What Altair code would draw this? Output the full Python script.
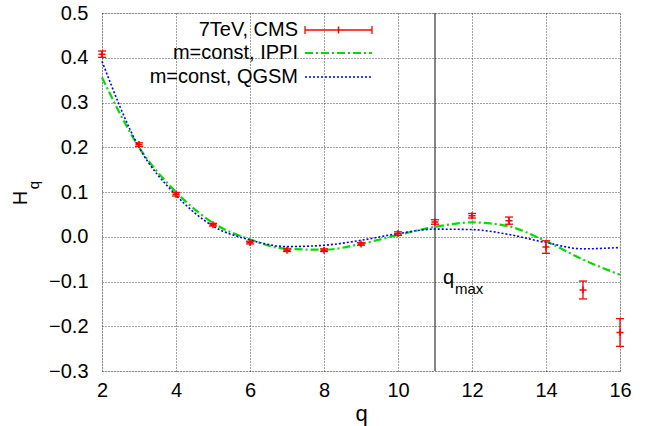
import altair as alt
import pandas as pd

q = list(range(2, 17))
cms = [0.408, 0.206, 0.095, 0.027, -0.013, -0.030, -0.030, -0.016, 0.007, 0.033, 0.047, 0.036, -0.023, -0.119, -0.214]
cms_err = [0.007, 0.004, 0.004, 0.003, 0.003, 0.003, 0.003, 0.003, 0.004, 0.005, 0.005, 0.008, 0.014, 0.020, 0.031]
ippi = [0.356, 0.200, 0.100, 0.031, -0.006, -0.027, -0.029, -0.016, 0.004, 0.022, 0.032, 0.023, -0.010, -0.051, -0.085]
qgsm = [0.392, 0.200, 0.093, 0.024, -0.007, -0.022, -0.019, -0.008, 0.007, 0.017, 0.016, 0.005, -0.013, -0.027, -0.024]
q_max = 11

df = pd.DataFrame({"q": q, "cms": cms, "err": cms_err, "ippi": ippi, "qgsm": qgsm})
df["lo"] = df["cms"] - df["err"]
df["hi"] = df["cms"] + df["err"]

FONT = "Liberation Sans"
RED = "#ff0000"
GREEN = "#00dd00"
BLUE = "#0000ff"

xs = alt.Scale(domain=[2, 16], nice=False, zero=False)
ys = alt.Scale(domain=[-0.3, 0.5], nice=False, zero=False)

base = alt.Chart(df)

xax = alt.X("q:Q", scale=xs,
            axis=alt.Axis(values=[2, 4, 6, 8, 10, 12, 14, 16], title="q", titleFontSize=22,
                          titleFontWeight="normal", titlePadding=3, labelPadding=9,
                          labelFlush=False, labelOverlap=False,
                          ticks=False, domain=False, grid=True, gridDash=[1, 2],
                          gridColor="#222222", gridOpacity=0.85, labelFontSize=20,
                          labelFont=FONT, titleFont=FONT, labelColor="#000", titleColor="#000"))

grid_layer = base.mark_point(opacity=0).encode(
    x=xax,
    y=alt.Y("cms:Q", scale=ys,
            axis=alt.Axis(values=[-0.3, -0.2, -0.1, 0.0, 0.1, 0.2, 0.3, 0.4, 0.5], format=".1f",
                          title=None, labelPadding=14, ticks=False, domain=False, grid=True,
                          labelFlush=False, labelOverlap=False,
                          gridDash=[1, 2], gridColor="#222222", gridOpacity=0.85,
                          labelFontSize=20, labelFont=FONT, labelColor="#000")),
)

vline = alt.Chart(pd.DataFrame({"q": [q_max]})).mark_rule(color="#333333", strokeWidth=1.2).encode(
    x=alt.X("q:Q", scale=xs)
)

ippi_line = base.mark_line(color=GREEN, strokeWidth=2.2, strokeDash=[8, 3, 2, 3],
                           interpolate="monotone", clip=False).encode(
    x=alt.X("q:Q", scale=xs), y=alt.Y("ippi:Q", scale=ys))
qgsm_line = base.mark_line(color=BLUE, strokeWidth=1.6, strokeDash=[2, 2],
                           interpolate="monotone", clip=False).encode(
    x=alt.X("q:Q", scale=xs), y=alt.Y("qgsm:Q", scale=ys))

err_rule = base.mark_rule(color=RED, strokeWidth=1.3).encode(
    x=alt.X("q:Q", scale=xs), y=alt.Y("lo:Q", scale=ys), y2="hi:Q")
cap_lo = base.mark_point(shape="M-1,0L1,0", size=64, filled=False, color=RED, strokeWidth=1.3,
                         opacity=1).encode(x=alt.X("q:Q", scale=xs), y=alt.Y("lo:Q", scale=ys))
cap_hi = base.mark_point(shape="M-1,0L1,0", size=64, filled=False, color=RED, strokeWidth=1.3,
                         opacity=1).encode(x=alt.X("q:Q", scale=xs), y=alt.Y("hi:Q", scale=ys))
center = base.mark_point(shape="M-1,0L1,0M0,-1L0,1", size=49, filled=False, color=RED,
                         strokeWidth=1.5, opacity=1).encode(
    x=alt.X("q:Q", scale=xs), y=alt.Y("cms:Q", scale=ys))

one = alt.Chart(pd.DataFrame({"a": [0]}))

# legend (manual)
leg_labels = ["7TeV, CMS", "m=const, IPPI", "m=const, QGSM"]
leg_y = [17, 40, 64]
leg_text = alt.layer(*[
    one.mark_text(text=t, align="right", baseline="middle", fontSize=20, font=FONT, color="#000").encode(
        x=alt.value(196), y=alt.value(yy))
    for t, yy in zip(leg_labels, leg_y)
])
leg_red = alt.layer(
    one.mark_rule(color=RED, strokeWidth=1.3).encode(x=alt.value(203), x2=alt.value(270), y=alt.value(leg_y[0])),
    one.mark_rule(color=RED, strokeWidth=1.3).encode(x=alt.value(203), y=alt.value(leg_y[0] - 4), y2=alt.value(leg_y[0] + 4)),
    one.mark_rule(color=RED, strokeWidth=1.3).encode(x=alt.value(270), y=alt.value(leg_y[0] - 4), y2=alt.value(leg_y[0] + 4)),
    one.mark_rule(color=RED, strokeWidth=1.5).encode(x=alt.value(236.5), y=alt.value(leg_y[0] - 3.5), y2=alt.value(leg_y[0] + 3.5)),
)
leg_green = one.mark_rule(color=GREEN, strokeWidth=2.2, strokeDash=[8, 3, 2, 3]).encode(
    x=alt.value(203), x2=alt.value(270), y=alt.value(leg_y[1]))
leg_blue = one.mark_rule(color=BLUE, strokeWidth=1.6, strokeDash=[2, 2]).encode(
    x=alt.value(203), x2=alt.value(270), y=alt.value(leg_y[2]))

# annotations
qmax_q = one.mark_text(text="q", align="left", baseline="alphabetic", fontSize=20, font=FONT, color="#000").encode(
    x=alt.value(341), y=alt.value(271))
qmax_sub = one.mark_text(text="max", align="left", baseline="alphabetic", fontSize=15, font=FONT, color="#000").encode(
    x=alt.value(353), y=alt.value(281))
h_main = one.mark_text(text="H", align="center", baseline="middle", fontSize=20, font=FONT, angle=270, color="#000").encode(
    x=alt.value(-81), y=alt.value(185))
h_sub = one.mark_text(text="q", align="center", baseline="middle", fontSize=15, font=FONT, angle=270, color="#000").encode(
    x=alt.value(-68), y=alt.value(172))

chart = alt.layer(
    grid_layer, vline, ippi_line, qgsm_line, err_rule, cap_lo, cap_hi, center,
    leg_text, leg_red, leg_green, leg_blue, qmax_q, qmax_sub, h_main, h_sub,
).properties(
    width=518, height=358,
    autosize=alt.AutoSizeParams(type="none"),
    padding={"left": 102, "top": 13, "right": 36, "bottom": 55},
).configure_view(
    stroke="#000", strokeWidth=1.5
).configure(background="white")

chart.save("out.html", embed_options={"renderer": "svg", "actions": False})
